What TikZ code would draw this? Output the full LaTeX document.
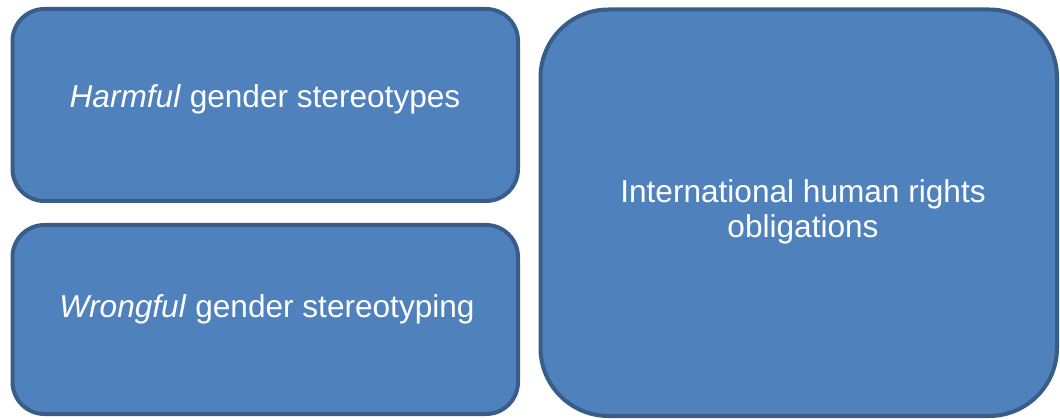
\documentclass[tikz,border=0pt]{standalone}
\usepackage{fontspec}
\setmainfont{Liberation Sans}
\definecolor{boxfill}{HTML}{4F81BD}
\definecolor{boxline}{HTML}{385D8A}
\begin{document}
\begin{tikzpicture}[x=1pt,y=-1pt,
  blockbox/.style={draw=boxline,fill=boxfill,line width=4pt,inner sep=0pt},
  lbl/.style={text=white,inner sep=0pt,font=\fontsize{31.6}{35}\selectfont,align=center}]
\useasboundingbox (0,0) rectangle (1060,419);
\node[blockbox,minimum width=505.5pt,minimum height=192pt,rounded corners=32pt] (b1) at (265.25,105) {};
\node[blockbox,minimum width=505.5pt,minimum height=189pt,rounded corners=32pt] (b2) at (265.25,319.5) {};
\node[blockbox,minimum width=516.5pt,minimum height=406.5pt,rounded corners=68pt] (b3) at (798.75,212.75) {};
\node[lbl,anchor=base] (t1) at (265,108) {\textit{Harmful} gender stereotypes};
\node[lbl,anchor=base] (t2) at (267,318) {\textit{Wrongful} gender stereotyping};
\node[lbl,anchor=center] (t3) at (803,212.3) {International human rights\\obligations};
\end{tikzpicture}
\end{document}
